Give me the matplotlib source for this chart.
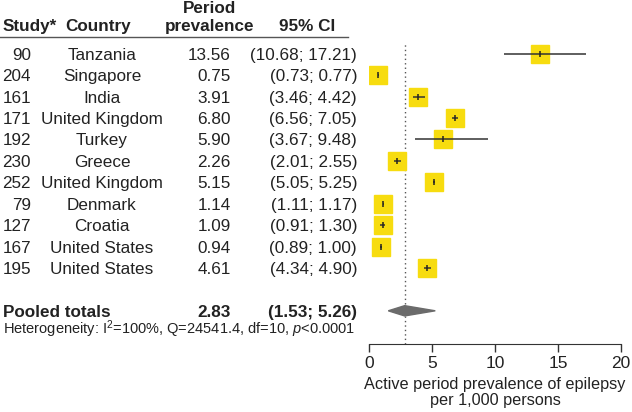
import matplotlib
matplotlib.use("Agg")
import matplotlib.pyplot as plt
import matplotlib.transforms as mtransforms
from matplotlib.patches import Polygon

plt.rcParams['font.family'] = ['Liberation Sans', 'DejaVu Sans']
plt.rcParams['mathtext.fontset'] = 'custom'
plt.rcParams['mathtext.rm'] = 'Liberation Sans'
plt.rcParams['mathtext.it'] = 'Liberation Sans:italic'

# data
studies = ["90", "204", "161", "171", "192", "230", "252", "79", "127", "167", "195"]
countries = ["Tanzania", "Singapore", "India", "United Kingdom", "Turkey", "Greece",
             "United Kingdom", "Denmark", "Croatia", "United States", "United States"]
prev = [13.56, 0.75, 3.91, 6.80, 5.90, 2.26, 5.15, 1.14, 1.09, 0.94, 4.61]
lo = [10.68, 0.73, 3.46, 6.56, 3.67, 2.01, 5.05, 1.11, 0.91, 0.89, 4.34]
hi = [17.21, 0.77, 4.42, 7.05, 9.48, 2.55, 5.25, 1.17, 1.30, 1.00, 4.90]
pooled = 2.83
pooled_lo = 1.53
pooled_hi = 5.26
xticks = [0, 5, 10, 15, 20]

W, H = 632, 412
fig = plt.figure(figsize=(W / 100, H / 100), dpi=100)
ax = fig.add_axes([369 / W, 1 - 344 / H, 252 / W, (344 - 42) / H])
ax.set_xlim(0, 20)
ax.set_ylim(13.55, -0.55)

txt = '#222222'
yellow = '#f7dc0f'

rows = list(range(len(prev)))
pooled_row = 12

# reference line
ax.axvline(pooled, color='#555555', lw=1, ls=(0, (1, 2.2)), zorder=1)

for i in rows:
    ax.plot(prev[i], i, marker='s', ms=13, color=yellow, mec=yellow, zorder=2)
    ax.plot([lo[i], hi[i]], [i, i], color='#333333', lw=1.1, zorder=3,
            solid_capstyle='butt')
    ax.plot(prev[i], i, marker='|', ms=5, mew=1.1, color='#222222', zorder=4)

diamond = Polygon([[pooled_lo, pooled_row], [pooled, pooled_row - 0.24],
                   [pooled_hi, pooled_row], [pooled, pooled_row + 0.24]],
                  closed=True, color='#6b6b6b', zorder=3)
ax.add_patch(diamond)

for s in ['top', 'right', 'left']:
    ax.spines[s].set_visible(False)
ax.spines['bottom'].set_bounds(0, 20)
ax.spines['bottom'].set_color('#333333')
ax.set_yticks([])
ax.set_xticks(xticks)
ax.tick_params(axis='x', length=6, width=1, color='#333333', labelsize=12.5,
               labelcolor=txt, pad=3)
ax.set_xlabel("Active period prevalence of epilepsy\nper 1,000 persons",
              fontsize=11.7, color=txt, labelpad=4, linespacing=1.05)

# table on the left
tr = mtransforms.blended_transform_factory(fig.transFigure, ax.transData)
def px(x):
    return x / W

off = 0.28
fs = 12.3
for i in rows:
    y = i + off
    ax.text(px(31), y, studies[i], transform=tr, ha='right', va='baseline', fontsize=fs, color=txt)
    ax.text(px(102), y, countries[i], transform=tr, ha='center', va='baseline', fontsize=fs, color=txt)
    ax.text(px(231), y, "%.2f" % prev[i], transform=tr, ha='right', va='baseline', fontsize=fs, color=txt)
    ax.text(px(357), y, "(%.2f; %.2f)" % (lo[i], hi[i]), transform=tr, ha='right', va='baseline',
            fontsize=fs, color=txt)

hy = -1.05
ax.text(px(3), hy, "Study*", transform=tr, ha='left', va='baseline', fontsize=fs, weight='bold', color=txt)
ax.text(px(98), hy, "Country", transform=tr, ha='center', va='baseline', fontsize=fs, weight='bold', color=txt)
ax.text(px(210), hy, "prevalence", transform=tr, ha='center', va='baseline', fontsize=fs, weight='bold', color=txt)
ax.text(px(210), -1.92, "Period", transform=tr, ha='center', va='baseline', fontsize=fs, weight='bold', color=txt)
ax.text(px(307), hy, "95% CI", transform=tr, ha='center', va='baseline', fontsize=fs, weight='bold', color=txt)
ax.plot([0, px(348)], [-0.79, -0.79], transform=tr, color='#555555', lw=1, clip_on=False)

py = pooled_row + off
ax.text(px(3), py, "Pooled totals", transform=tr, ha='left', va='baseline', fontsize=fs, weight='bold', color=txt)
ax.text(px(231), py, "%.2f" % pooled, transform=tr, ha='right', va='baseline', fontsize=fs, weight='bold', color=txt)
ax.text(px(357), py, "(%.2f; %.2f)" % (pooled_lo, pooled_hi), transform=tr, ha='right', va='baseline',
        fontsize=fs, weight='bold', color=txt)
ax.text(px(3), 12.85 + 0.25, r"Heterogeneity: I$^2$=100%, Q=24541.4, df=10, $p$<0.0001", transform=tr,
        ha='left', va='baseline', fontsize=10.5, color=txt)

fig.savefig("out.png", dpi=100)
